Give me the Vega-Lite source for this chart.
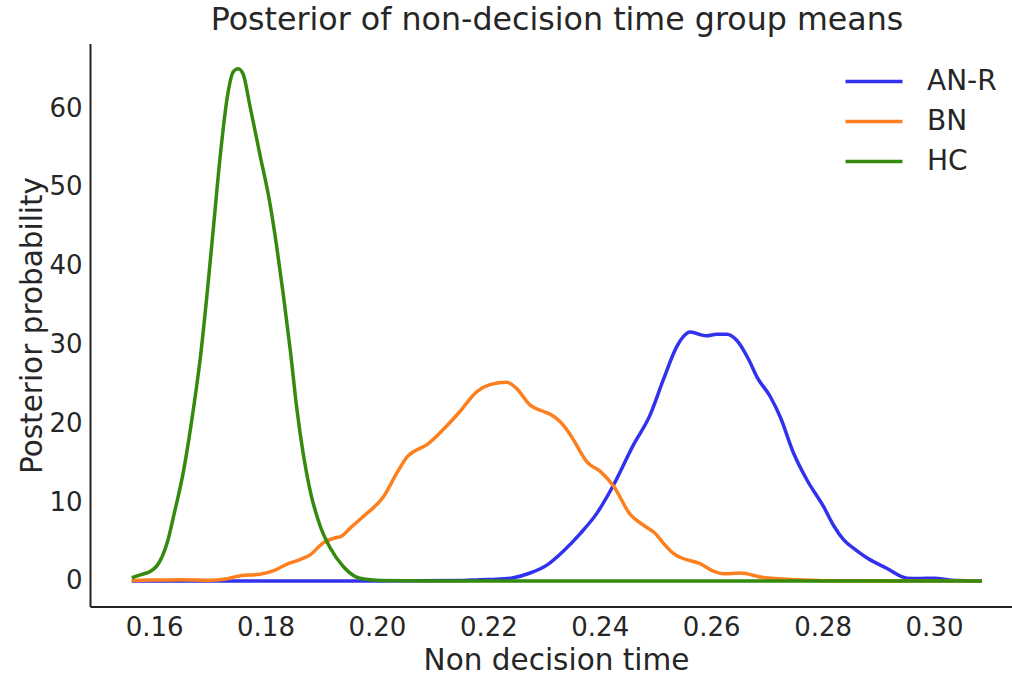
{
  "$schema": "https://vega.github.io/schema/vega-lite/v6.json",
  "width": 922,
  "height": 563,
  "autosize": "none",
  "padding": {"left": 90, "top": 43.5, "right": 0, "bottom": 70.5},
  "background": "white",
  "title": {"text": "Posterior of non-decision time group means", "fontSize": 31.7, "font": "DejaVu Sans", "fontWeight": "normal", "color": "#262626", "offset": -8, "baseline": "middle", "dx": 6},
  "data": {"values": [
    {"g": "AN-R", "t": 0.156, "p": 0},
    {"g": "AN-R", "t": 0.2, "p": 0},
    {"g": "AN-R", "t": 0.215, "p": 0.05},
    {"g": "AN-R", "t": 0.2185, "p": 0.15},
    {"g": "AN-R", "t": 0.2215, "p": 0.2},
    {"g": "AN-R", "t": 0.2245, "p": 0.4},
    {"g": "AN-R", "t": 0.2275, "p": 1.0},
    {"g": "AN-R", "t": 0.2305, "p": 2.0},
    {"g": "AN-R", "t": 0.2335, "p": 3.8},
    {"g": "AN-R", "t": 0.2365, "p": 6.0},
    {"g": "AN-R", "t": 0.2395, "p": 8.6},
    {"g": "AN-R", "t": 0.2425, "p": 12.2},
    {"g": "AN-R", "t": 0.246, "p": 17.2},
    {"g": "AN-R", "t": 0.249, "p": 21.0},
    {"g": "AN-R", "t": 0.2514, "p": 25.5},
    {"g": "AN-R", "t": 0.2538, "p": 29.7},
    {"g": "AN-R", "t": 0.255, "p": 31.0},
    {"g": "AN-R", "t": 0.2562, "p": 31.6},
    {"g": "AN-R", "t": 0.2578, "p": 31.3},
    {"g": "AN-R", "t": 0.2592, "p": 31.1},
    {"g": "AN-R", "t": 0.261, "p": 31.3},
    {"g": "AN-R", "t": 0.2628, "p": 31.3},
    {"g": "AN-R", "t": 0.2645, "p": 30.6},
    {"g": "AN-R", "t": 0.2668, "p": 28.0},
    {"g": "AN-R", "t": 0.2682, "p": 25.9},
    {"g": "AN-R", "t": 0.2706, "p": 23.4},
    {"g": "AN-R", "t": 0.2724, "p": 20.8},
    {"g": "AN-R", "t": 0.2748, "p": 16.2},
    {"g": "AN-R", "t": 0.2772, "p": 12.8},
    {"g": "AN-R", "t": 0.2802, "p": 9.4},
    {"g": "AN-R", "t": 0.282, "p": 7.0},
    {"g": "AN-R", "t": 0.2838, "p": 5.2},
    {"g": "AN-R", "t": 0.286, "p": 3.9},
    {"g": "AN-R", "t": 0.288, "p": 2.9},
    {"g": "AN-R", "t": 0.2915, "p": 1.6},
    {"g": "AN-R", "t": 0.2951, "p": 0.35},
    {"g": "AN-R", "t": 0.2975, "p": 0.3},
    {"g": "AN-R", "t": 0.2999, "p": 0.34},
    {"g": "AN-R", "t": 0.3041, "p": 0.05},
    {"g": "AN-R", "t": 0.3086, "p": 0},
    {"g": "BN", "t": 0.156, "p": 0.05},
    {"g": "BN", "t": 0.16, "p": 0.1},
    {"g": "BN", "t": 0.165, "p": 0.15},
    {"g": "BN", "t": 0.17, "p": 0.08},
    {"g": "BN", "t": 0.1725, "p": 0.2},
    {"g": "BN", "t": 0.1755, "p": 0.65},
    {"g": "BN", "t": 0.179, "p": 0.85},
    {"g": "BN", "t": 0.1815, "p": 1.3},
    {"g": "BN", "t": 0.1838, "p": 2.1},
    {"g": "BN", "t": 0.1862, "p": 2.7},
    {"g": "BN", "t": 0.188, "p": 3.3},
    {"g": "BN", "t": 0.1904, "p": 4.85},
    {"g": "BN", "t": 0.1922, "p": 5.4},
    {"g": "BN", "t": 0.1937, "p": 5.7},
    {"g": "BN", "t": 0.1952, "p": 6.7},
    {"g": "BN", "t": 0.1976, "p": 8.2},
    {"g": "BN", "t": 0.2012, "p": 10.7},
    {"g": "BN", "t": 0.2036, "p": 13.7},
    {"g": "BN", "t": 0.2055, "p": 15.8},
    {"g": "BN", "t": 0.2066, "p": 16.4},
    {"g": "BN", "t": 0.209, "p": 17.3},
    {"g": "BN", "t": 0.2119, "p": 19.2},
    {"g": "BN", "t": 0.2149, "p": 21.5},
    {"g": "BN", "t": 0.2179, "p": 24.0},
    {"g": "BN", "t": 0.2203, "p": 24.9},
    {"g": "BN", "t": 0.2233, "p": 25.2},
    {"g": "BN", "t": 0.2251, "p": 24.4},
    {"g": "BN", "t": 0.2275, "p": 22.3},
    {"g": "BN", "t": 0.2299, "p": 21.5},
    {"g": "BN", "t": 0.2315, "p": 21.0},
    {"g": "BN", "t": 0.2329, "p": 20.2},
    {"g": "BN", "t": 0.2353, "p": 17.9},
    {"g": "BN", "t": 0.2365, "p": 16.4},
    {"g": "BN", "t": 0.2377, "p": 15.1},
    {"g": "BN", "t": 0.2401, "p": 13.9},
    {"g": "BN", "t": 0.2425, "p": 12.0},
    {"g": "BN", "t": 0.2455, "p": 8.4},
    {"g": "BN", "t": 0.248, "p": 7.0},
    {"g": "BN", "t": 0.25, "p": 6.0},
    {"g": "BN", "t": 0.2514, "p": 4.8},
    {"g": "BN", "t": 0.2532, "p": 3.5},
    {"g": "BN", "t": 0.2544, "p": 3.0},
    {"g": "BN", "t": 0.258, "p": 2.2},
    {"g": "BN", "t": 0.2605, "p": 1.2},
    {"g": "BN", "t": 0.2622, "p": 0.9},
    {"g": "BN", "t": 0.2652, "p": 1.0},
    {"g": "BN", "t": 0.2694, "p": 0.42},
    {"g": "BN", "t": 0.2754, "p": 0.13},
    {"g": "BN", "t": 0.28, "p": 0.03},
    {"g": "BN", "t": 0.3086, "p": 0},
    {"g": "HC", "t": 0.156, "p": 0.4},
    {"g": "HC", "t": 0.1577, "p": 0.8},
    {"g": "HC", "t": 0.1593, "p": 1.2},
    {"g": "HC", "t": 0.1605, "p": 1.9},
    {"g": "HC", "t": 0.1614, "p": 3.0},
    {"g": "HC", "t": 0.1625, "p": 5.2},
    {"g": "HC", "t": 0.1635, "p": 8.2},
    {"g": "HC", "t": 0.1653, "p": 14.0},
    {"g": "HC", "t": 0.1671, "p": 22.0},
    {"g": "HC", "t": 0.1683, "p": 28.3},
    {"g": "HC", "t": 0.1695, "p": 36.3},
    {"g": "HC", "t": 0.1707, "p": 45.2},
    {"g": "HC", "t": 0.1719, "p": 54.1},
    {"g": "HC", "t": 0.1731, "p": 61.2},
    {"g": "HC", "t": 0.1742, "p": 64.6},
    {"g": "HC", "t": 0.1751, "p": 65.0},
    {"g": "HC", "t": 0.176, "p": 64.3},
    {"g": "HC", "t": 0.1772, "p": 60.3},
    {"g": "HC", "t": 0.179, "p": 54.1},
    {"g": "HC", "t": 0.1808, "p": 47.9},
    {"g": "HC", "t": 0.182, "p": 42.5},
    {"g": "HC", "t": 0.1832, "p": 36.3},
    {"g": "HC", "t": 0.1845, "p": 29.0},
    {"g": "HC", "t": 0.1856, "p": 22.0},
    {"g": "HC", "t": 0.1868, "p": 16.0},
    {"g": "HC", "t": 0.188, "p": 11.5},
    {"g": "HC", "t": 0.1898, "p": 7.0},
    {"g": "HC", "t": 0.1916, "p": 4.2},
    {"g": "HC", "t": 0.194, "p": 1.8},
    {"g": "HC", "t": 0.196, "p": 0.6},
    {"g": "HC", "t": 0.198, "p": 0.2},
    {"g": "HC", "t": 0.2006, "p": 0.05},
    {"g": "HC", "t": 0.21, "p": 0},
    {"g": "HC", "t": 0.3086, "p": 0}
  ]},
  "mark": {"type": "line", "interpolate": "monotone", "strokeWidth": 3.5, "clip": true},
  "encoding": {
    "x": {"field": "t", "type": "quantitative",
      "scale": {"domain": [0.1485, 0.314], "nice": false, "zero": false},
      "axis": {"title": "Non decision time", "values": [0.16, 0.18, 0.2, 0.22, 0.24, 0.26, 0.28, 0.3], "format": ".2f", "labelPadding": 8, "titleY": 54, "titleX": 466, "titleBaseline": "middle"}},
    "y": {"field": "p", "type": "quantitative",
      "scale": {"domain": [-3.25, 68.2], "nice": false, "zero": false},
      "axis": {"title": "Posterior probability", "values": [0, 10, 20, 30, 40, 50, 60], "labelPadding": 8, "titleX": -58, "titleBaseline": "middle"}},
    "color": {"field": "g", "type": "nominal",
      "scale": {"domain": ["AN-R", "BN", "HC"], "range": ["#3232ee", "#fd7f1e", "#348a0c"]},
      "legend": {"orient": "none", "legendX": 768, "legendY": 22, "title": null, "symbolType": "M-2,0H2", "symbolSize": 812, "symbolStrokeWidth": 3.5, "symbolFillColor": "transparent", "labelFontSize": 28, "labelOffset": 37, "rowPadding": 10, "padding": 0, "labelColor": "#262626", "labelFont": "DejaVu Sans"}}
  },
  "config": {
    "font": "DejaVu Sans",
    "view": {"stroke": null},
    "axis": {"grid": false, "ticks": false, "domainColor": "#222222", "domainWidth": 2, "labelFontSize": 26, "labelColor": "#262626", "titleFontSize": 29.5, "titleFontWeight": "normal", "titleColor": "#262626", "labelFont": "DejaVu Sans", "titleFont": "DejaVu Sans"}
  }
}
